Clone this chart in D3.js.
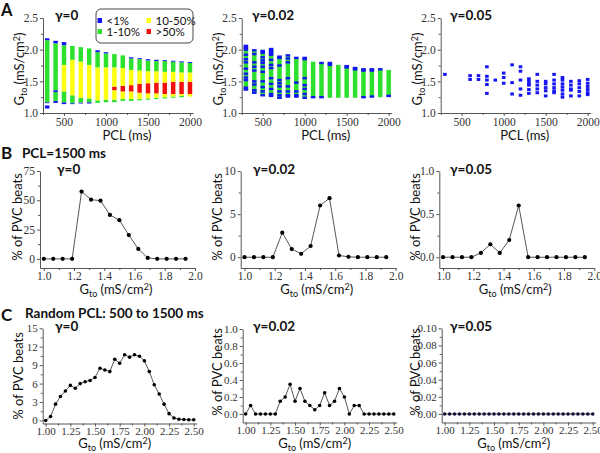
<!DOCTYPE html>
<html>
<head>
<meta charset="utf-8">
<script src="https://cdnjs.cloudflare.com/ajax/libs/d3/7.8.5/d3.min.js"></script>
<style>
  body { margin: 0; background: #fff; }
  svg { display: block; }
  .lab { font-family: Lato, "Open Sans", sans-serif; fill: #111; }
</style>
</head>
<body>
<script>
// ---- Row A: Gto vs PCL, coloured by % of PVC beats ----
const pcl = [300, 400, 500, 600, 700, 800, 900, 1000, 1100, 1200, 1300, 1400, 1500, 1600, 1700, 1800, 1900, 2000];
const catNames = ["<1%", "1-10%", "10-50%", ">50%"];
const catColors = ["#1414f5", "#2ee02e", "#ffff10", "#f01010"];

// gamma = 0: [from, to, category] per column, bottom to top
const a1Segments = [
  [[1.07, 1.12, 0], [1.155, 1.17, 0], [1.17, 2.15, 1], [2.15, 2.18, 0]],
  [[1.16, 1.19, 0], [1.19, 1.33, 1], [1.33, 1.36, 0], [1.36, 2.10, 1], [2.10, 2.14, 0]],
  [[1.14, 1.17, 0], [1.17, 1.34, 1], [1.34, 1.76, 2], [1.76, 2.07, 1], [2.07, 2.12, 0]],
  [[1.14, 1.155, 0], [1.155, 1.28, 1], [1.28, 1.84, 2], [1.84, 2.06, 1]],
  [[1.15, 1.165, 0], [1.165, 1.24, 1], [1.24, 1.81, 2], [1.81, 2.04, 1]],
  [[1.15, 1.17, 0], [1.17, 1.23, 1], [1.23, 1.76, 2], [1.76, 2.02, 1]],
  [[1.16, 1.20, 1], [1.20, 1.72, 2], [1.72, 1.96, 1], [1.96, 1.99, 0]],
  [[1.17, 1.21, 1], [1.21, 1.72, 2], [1.72, 1.94, 1], [1.94, 1.96, 0]],
  [[1.17, 1.21, 1], [1.21, 1.36, 2], [1.36, 1.415, 3], [1.415, 1.72, 2], [1.72, 1.93, 1]],
  [[1.19, 1.22, 1], [1.22, 1.34, 2], [1.34, 1.43, 3], [1.43, 1.71, 2], [1.71, 1.91, 1]],
  [[1.19, 1.22, 1], [1.22, 1.34, 2], [1.34, 1.44, 3], [1.44, 1.68, 2], [1.68, 1.86, 1], [1.86, 1.88, 0]],
  [[1.20, 1.22, 1], [1.22, 1.32, 2], [1.32, 1.46, 3], [1.46, 1.67, 2], [1.67, 1.85, 1], [1.85, 1.865, 0]],
  [[1.21, 1.23, 1], [1.23, 1.31, 2], [1.31, 1.47, 3], [1.47, 1.66, 2], [1.66, 1.83, 1], [1.83, 1.85, 0]],
  [[1.22, 1.24, 1], [1.24, 1.31, 2], [1.31, 1.48, 3], [1.48, 1.66, 2], [1.66, 1.82, 1], [1.82, 1.84, 0]],
  [[1.23, 1.25, 1], [1.25, 1.30, 2], [1.30, 1.48, 3], [1.48, 1.65, 2], [1.65, 1.82, 1], [1.82, 1.835, 0]],
  [[1.24, 1.26, 1], [1.26, 1.30, 2], [1.30, 1.49, 3], [1.49, 1.65, 2], [1.65, 1.81, 1], [1.81, 1.825, 0]],
  [[1.25, 1.27, 1], [1.27, 1.30, 2], [1.30, 1.49, 3], [1.49, 1.64, 2], [1.64, 1.80, 1], [1.80, 1.815, 0]],
  [[1.26, 1.30, 2], [1.30, 1.49, 3], [1.49, 1.64, 2], [1.64, 1.79, 1], [1.79, 1.805, 0]]
];

// gamma = 0.02: green span per column and the blue (<1%) values inside it
const a2Range = [
  [1.36, 2.07], [1.31, 2.00], [1.27, 1.99], [1.27, 2.02], [1.23, 1.90], [1.25, 1.92],
  [1.25, 1.88], [1.23, 1.88], [1.24, 1.81], [1.24, 1.80], [1.24, 1.80], [1.24, 1.76],
  [1.24, 1.75], [1.24, 1.72], [1.24, 1.70], [1.25, 1.70], [1.25, 1.70], [1.26, 1.68]
];
const a2Blue = [
  [2.06, 2.03, 2.00, 1.92, 1.85, 1.80, 1.70, 1.62, 1.56, 1.52, 1.40, 1.37],
  [1.99, 1.93, 1.80, 1.73, 1.67, 1.50, 1.45, 1.36, 1.32],
  [1.98, 1.95, 1.88, 1.83, 1.79, 1.73, 1.65, 1.50, 1.41, 1.34, 1.28],
  [2.01, 1.98, 1.95, 1.92, 1.84, 1.76, 1.71, 1.55, 1.46, 1.38, 1.30, 1.27],
  [1.89, 1.87, 1.75, 1.52, 1.47, 1.42, 1.34, 1.28, 1.24],
  [1.91, 1.86, 1.80, 1.55, 1.42, 1.34, 1.28, 1.26],
  [1.87, 1.48, 1.34, 1.28, 1.26],
  [1.87, 1.85, 1.55, 1.44, 1.38, 1.30, 1.24],
  [1.25],
  [1.79, 1.25],
  [1.79, 1.76],
  [],
  [1.74, 1.72],
  [1.71, 1.69],
  [1.69, 1.67, 1.25],
  [1.69, 1.67, 1.26],
  [1.69],
  [1.27]
];

// gamma = 0.05: only blue (<1%) points
const a3Points = [
  [1.61], [], [], [1.59, 1.53], [1.59, 1.53], [1.73, 1.58, 1.52, 1.45, 1.31], [1.52],
  [1.63, 1.56, 1.47], [1.76, 1.48, 1.30], [1.73, 1.66, 1.52, 1.38, 1.28],
  [1.54, 1.50, 1.46, 1.44, 1.37, 1.31], [1.61, 1.50, 1.44, 1.38, 1.32],
  [1.50, 1.46, 1.40, 1.35, 1.27], [1.61, 1.52, 1.46, 1.40, 1.35, 1.32],
  [1.56, 1.52, 1.46, 1.41, 1.36, 1.30, 1.25], [1.50, 1.44, 1.38, 1.36, 1.27],
  [1.51, 1.46, 1.40, 1.34, 1.27], [1.53, 1.47, 1.42, 1.37, 1.32, 1.29]
];

// ---- Row B: PCL = 1500 ms ----
const gtoB = [1.0, 1.0625, 1.125, 1.1875, 1.25, 1.3125, 1.375, 1.4375, 1.5, 1.5625, 1.625, 1.6875, 1.75, 1.8125, 1.875, 1.9375];
const pvcB0 = [0, 0, 0, 0, 57.4, 50.5, 49.7, 37.5, 33, 20.3, 8.5, 0.8, 0, 0, 0, 0];
const pvcB002 = [0, 0, 0, 0, 2.85, 0.95, 0.4, 1.3, 6.0, 6.85, 0.2, 0.05, 0, 0, 0, 0];
const pvcB005 = [0, 0, 0, 0, 0.05, 0.15, 0.05, 0.2, 0.6, 0, 0, 0, 0, 0, 0, 0];

// ---- Row C: random PCL 500 to 1500 ms ----
const gtoC = [1.00, 1.05, 1.10, 1.15, 1.20, 1.25, 1.30, 1.35, 1.40, 1.45, 1.50, 1.55, 1.60, 1.65, 1.70, 1.75,
              1.80, 1.85, 1.90, 1.95, 2.00, 2.05, 2.10, 2.15, 2.20, 2.25, 2.30, 2.35, 2.40, 2.45, 2.50];
const pvcC0 = [0, 0.65, 2.65, 3.9, 4.8, 5.7, 5.25, 6.0, 6.3, 6.5, 7.0, 8.5, 8.2, 7.95, 9.95, 9.3,
               10.7, 10.3, 10.7, 10.45, 9.7, 7.95, 5.8, 4.3, 2.65, 1.1, 0.4, 0.2, 0.15, 0.1, 0.1];
const pvcC002 = [0, 0.1, 0, 0, 0, 0, 0, 0.15, 0.2, 0.35, 0.15, 0.3, 0.15, 0.1, 0.05, 0.1,
                 0.25, 0.1, 0.15, 0.3, 0.2, 0, 0.1, 0.1, 0, 0, 0, 0, 0, 0, 0];
const pvcC005 = [0, 0, 0, 0, 0, 0, 0, 0, 0, 0, 0, 0, 0, 0, 0, 0,
                 0, 0, 0, 0, 0, 0, 0, 0, 0, 0, 0, 0, 0, 0, 0];

// tick values
const ticksA_x = [500, 1000, 1500, 2000];
const minorA_x = [250, 750, 1250, 1750];
const ticksA_y = [1.0, 1.5, 2.0, 2.5];
const minorA_y = [1.25, 1.75, 2.25];
const ticksB_x = [1.0, 1.2, 1.4, 1.6, 1.8, 2.0];
const minorB_x = [1.1, 1.3, 1.5, 1.7, 1.9];
const ticksC_x = [1.00, 1.25, 1.50, 1.75, 2.00, 2.25, 2.50];
const minorC_x = [1.125, 1.375, 1.625, 1.875, 2.125, 2.375];

const tickFont = '"Liberation Serif", "Times New Roman", serif';

const svg = d3.select("body").append("svg")
  .attr("width", 600)
  .attr("height", 453);

// draw a pair of axes with major and minor ticks
function drawAxes(x, y, o) {
  const g = svg.append("g");
  const x0 = x.range()[0];
  const y0 = y.range()[0];
  g.append("g")
    .attr("transform", `translate(0,${y0})`)
    .call(d3.axisBottom(x).tickValues(o.xTicks).tickFormat(o.xFmt).tickSize(3).tickSizeOuter(0).tickPadding(o.xPad));
  g.append("g")
    .attr("transform", `translate(0,${y0})`)
    .call(d3.axisBottom(x).tickValues(o.xMinor).tickFormat("").tickSize(2))
    .call(a => a.select(".domain").remove())
    .call(a => a.selectAll(".tick text").remove());
  g.append("g")
    .attr("transform", `translate(${x0},0)`)
    .call(d3.axisLeft(y).tickValues(o.yTicks).tickFormat(o.yFmt).tickSize(3).tickSizeOuter(0).tickPadding(2));
  g.append("g")
    .attr("transform", `translate(${x0},0)`)
    .call(d3.axisLeft(y).tickValues(o.yMinor).tickFormat("").tickSize(2))
    .call(a => a.select(".domain").remove())
    .call(a => a.selectAll(".tick text").remove());
  g.selectAll("path, line").attr("stroke", "#444").attr("stroke-width", 0.9);
  g.selectAll(".tick text")
    .style("font-family", tickFont)
    .style("font-size", (o.font || 11.5) + "px")
    .style("fill", "#333");
}

// axis title Gto (mS/cm2)
function gtoLabel(x, y, rotate) {
  const t = svg.append("text")
    .attr("class", "lab")
    .attr("font-size", 13)
    .attr("text-anchor", "middle")
    .attr("transform", `translate(${x},${y})` + (rotate ? " rotate(-90)" : ""));
  t.append("tspan").text("G");
  t.append("tspan").attr("dy", 3).attr("font-size", 9).text("to");
  t.append("tspan").attr("dy", -3).text(" (mS/cm");
  t.append("tspan").attr("dy", -4).attr("font-size", 9).text("2");
  t.append("tspan").attr("dy", 4).text(")");
}

function label(txt, x, y, size, bold, rotate) {
  svg.append("text")
    .attr("class", "lab")
    .attr("font-size", size)
    .attr("font-weight", bold ? "bold" : "normal")
    .attr("text-anchor", rotate ? "middle" : "start")
    .attr("transform", `translate(${x},${y})` + (rotate ? " rotate(-90)" : ""))
    .text(txt);
}

// ---------------- Row A ----------------
const panelsA = [
  { ax: 43, title: "γ=0", tx: 55, lx: 24 },
  { ax: 241.7, title: "γ=0.02", tx: 252, lx: 223 },
  { ax: 440.7, title: "γ=0.05", tx: 450, lx: 422 }
];
const yA = d3.scaleLinear().domain([1.0, 2.5]).range([113, 18]);
const xAs = panelsA.map(p => d3.scaleLinear().domain([250, 2036]).range([p.ax, p.ax + 150]));
const barW = 4.5;

panelsA.forEach((p, i) => {
  drawAxes(xAs[i], yA, {
    xTicks: ticksA_x, xMinor: minorA_x, xFmt: d3.format("d"), xPad: 2,
    yTicks: ticksA_y, yMinor: minorA_y, yFmt: d3.format(".1f")
  });
  label(p.title, p.tx, 19.5, 13.5, true);
  gtoLabel(p.lx, 69, true);
  svg.append("text").attr("class", "lab").attr("font-size", 13)
    .attr("text-anchor", "middle").attr("x", p.ax + 84).attr("y", 140).text("PCL (ms)");
});

// gamma = 0 stacked columns
const a1Rects = pcl.flatMap((p, i) => a1Segments[i].map(s => ({ pcl: p, lo: s[0], hi: s[1], cat: s[2] })));
svg.append("g").selectAll("rect")
  .data(a1Rects)
  .enter().append("rect")
  .attr("x", d => xAs[0](d.pcl) - barW / 2)
  .attr("y", d => yA(d.hi))
  .attr("width", barW)
  .attr("height", d => yA(d.lo) - yA(d.hi))
  .attr("fill", d => catColors[d.cat]);

// gamma = 0.02 green columns + blue marks
svg.append("g").selectAll("rect")
  .data(pcl.map((p, i) => ({ pcl: p, lo: a2Range[i][0], hi: a2Range[i][1] })))
  .enter().append("rect")
  .attr("x", d => xAs[1](d.pcl) - barW / 2)
  .attr("y", d => yA(d.hi))
  .attr("width", barW)
  .attr("height", d => yA(d.lo) - yA(d.hi))
  .attr("fill", catColors[1]);
svg.append("g").selectAll("rect")
  .data(pcl.flatMap((p, i) => a2Blue[i].map(v => ({ pcl: p, v: v }))))
  .enter().append("rect")
  .attr("x", d => xAs[1](d.pcl) - barW / 2)
  .attr("y", d => yA(d.v) - 1.2)
  .attr("width", barW)
  .attr("height", 2.4)
  .attr("fill", catColors[0]);

// gamma = 0.05 blue points
svg.append("g").selectAll("rect")
  .data(pcl.flatMap((p, i) => a3Points[i].map(v => ({ pcl: p, v: v }))))
  .enter().append("rect")
  .attr("x", d => xAs[2](d.pcl) - 1.8)
  .attr("y", d => yA(d.v) - 1.5)
  .attr("width", 3.6)
  .attr("height", 3)
  .attr("fill", catColors[0]);

// legend
const leg = svg.append("g");
leg.append("rect")
  .attr("x", 96).attr("y", 9).attr("width", 97).attr("height", 34).attr("rx", 5)
  .attr("fill", "#fff").attr("stroke", "#333").attr("stroke-width", 0.9);
const legPos = [[97.5, 20.5], [97.5, 31.5], [146.5, 20.5], [146.5, 31.5]];
catNames.forEach((c, i) => {
  leg.append("rect").attr("x", legPos[i][0]).attr("y", legPos[i][1] - 2.5)
    .attr("width", 4.5).attr("height", 5).attr("fill", catColors[i]);
  leg.append("text").attr("class", "lab").attr("font-size", 11.5)
    .attr("x", legPos[i][0] + 9).attr("y", legPos[i][1] + 4).text(c);
});

// ---------------- Row B ----------------
const panelsB = [
  { ax: 40, y: d3.scaleLinear().domain([-7.8, 75]).range([268, 171]), yt: [0, 25, 50, 75], ym: [12.5, 37.5, 62.5], fmt: d3.format("d"), data: pvcB0, title: "γ=0", tx: 57, lx: 22 },
  { ax: 240.7, y: d3.scaleLinear().domain([-1.25, 10]).range([268, 171]), yt: [0, 5, 10], ym: [2.5, 7.5], fmt: d3.format("d"), data: pvcB002, title: "γ=0.02", tx: 253, lx: 222 },
  { ax: 439.3, y: d3.scaleLinear().domain([-0.125, 1.0]).range([268, 171]), yt: [0, 0.5, 1.0], ym: [0.25, 0.75], fmt: d3.format(".1f"), data: pvcB005, title: "γ=0.05", tx: 450, lx: 420 }
];

panelsB.forEach(p => {
  const x = d3.scaleLinear().domain([0.975, 2.0]).range([p.ax, p.ax + 155]);
  drawAxes(x, p.y, {
    xTicks: ticksB_x, xMinor: minorB_x, xFmt: d3.format(".1f"), xPad: 1,
    yTicks: p.yt, yMinor: p.ym, yFmt: p.fmt
  });
  const pts = gtoB.map((g, i) => ({ g: g, v: p.data[i] }));
  svg.append("path")
    .datum(pts)
    .attr("fill", "none").attr("stroke", "#444").attr("stroke-width", 0.9)
    .attr("d", d3.line().x(d => x(d.g)).y(d => p.y(d.v)));
  svg.append("g").selectAll("circle")
    .data(pts)
    .enter().append("circle")
    .attr("cx", d => x(d.g)).attr("cy", d => p.y(d.v)).attr("r", 2.1)
    .attr("fill", "#000");
  label(p.title, p.tx, 173.5, 13.5, true);
  label("% of PVC beats", p.lx, 217, 13, false, true);
  gtoLabel(p.ax + 76, 294, false);
});

// ---------------- Row C ----------------
const panelsC = [
  { ax: 42.7, y: d3.scaleLinear().domain([-0.5, 15]).range([423.5, 328.3]), yt: [0, 3, 6, 9, 12, 15], ym: [1.5, 4.5, 7.5, 10.5, 13.5], fmt: d3.format("d"), data: pvcC0, title: "γ=0", tx: 55, lx: 23, ly: 376 },
  { ax: 242.7, y: d3.scaleLinear().domain([-0.1, 1.0]).range([422.5, 329]), yt: [0, 0.2, 0.4, 0.6, 0.8, 1.0], ym: [0.1, 0.3, 0.5, 0.7, 0.9], fmt: d3.format(".1f"), data: pvcC002, title: "γ=0.02", tx: 253, lx: 222, ly: 372 },
  { ax: 441.7, y: d3.scaleLinear().domain([-0.01, 0.10]).range([422.5, 328.3]), yt: [0, 0.02, 0.04, 0.06, 0.08, 0.10], ym: [0.01, 0.03, 0.05, 0.07, 0.09], fmt: d3.format(".2f"), data: pvcC005, title: "γ=0.05", tx: 450, lx: 420, ly: 372 }
];

panelsC.forEach((p, k) => {
  const x = d3.scaleLinear().domain([0.97, 2.53]).range([p.ax, p.ax + 154]);
  drawAxes(x, p.y, {
    xTicks: ticksC_x, xMinor: minorC_x, xFmt: d3.format(".2f"), xPad: 1,
    yTicks: p.yt, yMinor: p.ym, yFmt: p.fmt, font: 11
  });
  const pts = gtoC.map((g, i) => ({ g: g, v: p.data[i] }));
  svg.append("path")
    .datum(pts)
    .attr("fill", "none").attr("stroke", "#444").attr("stroke-width", 0.9)
    .attr("d", d3.line().x(d => x(d.g)).y(d => p.y(d.v)));
  svg.append("g").selectAll("circle")
    .data(pts)
    .enter().append("circle")
    .attr("cx", d => x(d.g)).attr("cy", d => p.y(d.v)).attr("r", 1.8)
    .attr("fill", k === 2 ? "#11113a" : "#000");
  label(p.title, p.tx, 331, 13.5, true);
  label("% of PVC beats", p.lx, p.ly, 13, false, true);
  gtoLabel(p.ax + 72, 448, false);
});

// row letters and headings
label("A", 1, 16, 16.5, true);
label("B", 1, 158.5, 17, true);
label("PCL=1500 ms", 22, 157.7, 13.5, true);
label("C", 1, 320.5, 17, true);
label("Random PCL: 500 to 1500 ms", 25, 317.7, 13.5, true);
</script>
</body>
</html>
